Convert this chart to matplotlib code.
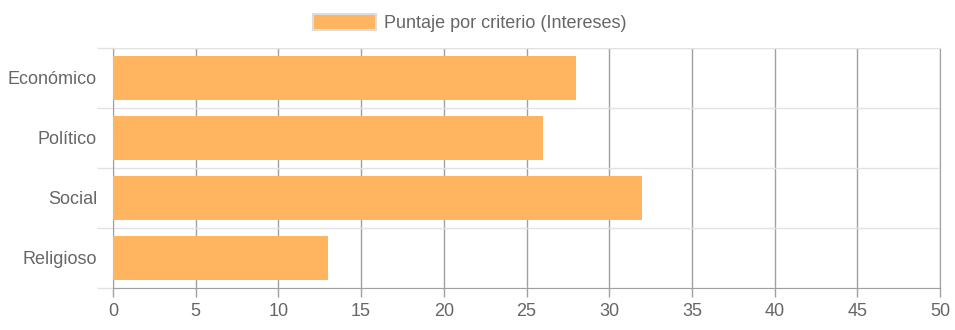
import matplotlib.pyplot as plt
from matplotlib.patches import Patch

plt.rcParams['font.family'] = ['Liberation Sans', 'DejaVu Sans']

categorias = ['Económico', 'Político', 'Social', 'Religioso']
puntajes = [28, 26, 32, 13]
etiqueta = 'Puntaje por criterio (Intereses)'

color_barra = '#ffb55f'
gris_texto = '#666666'
gris_vertical = '#a0a0a0'
gris_horizontal = '#e2e2e2'

fig = plt.figure(figsize=(9.55, 3.3), dpi=100)
ax = fig.add_axes([113 / 955, 1 - 288 / 330, 827 / 955, 240 / 330])

pos = list(range(len(categorias)))
ax.barh(pos, puntajes, height=0.72, color=color_barra, zorder=3)

ax.set_xlim(0, 50)
ax.set_ylim(len(categorias) - 0.5, -0.5)

# eje x: marcas cada 5 con lineas verticales grises
ax.set_xticks(range(0, 51, 5))
ax.tick_params(axis='x', length=6.5, width=1, color=gris_vertical,
               labelsize=13, labelcolor=gris_texto, pad=4.5)
ax.grid(axis='x', color=gris_vertical, linewidth=1, zorder=1)

# eje y: etiquetas centradas, lineas entre categorias
ax.set_yticks(pos)
ax.set_yticklabels(categorias)
ax.set_yticks([p - 0.5 for p in pos] + [len(categorias) - 0.5], minor=True)
ax.tick_params(axis='y', which='major', length=0, pad=11.5,
               labelsize=13, labelcolor=gris_texto)
ax.tick_params(axis='y', which='minor', length=11.5, width=1, color=gris_horizontal)
ax.grid(axis='y', which='minor', color=gris_horizontal, linewidth=1, zorder=1)

for lado in ['left', 'right']:
    ax.spines[lado].set_color(gris_vertical)
ax.spines['top'].set_color(gris_horizontal)
ax.spines['bottom'].set_color(gris_vertical)

fig.legend(handles=[Patch(facecolor=color_barra, edgecolor='#dddddd', linewidth=1.5,
                          label=etiqueta)],
           loc='center', bbox_to_anchor=(470 / 955, 1 - 23 / 330),
           frameon=False, fontsize=13, labelcolor=gris_texto,
           handlelength=3.5, handleheight=1.0, handletextpad=0.45)

fig.savefig('out.png', dpi=100)
